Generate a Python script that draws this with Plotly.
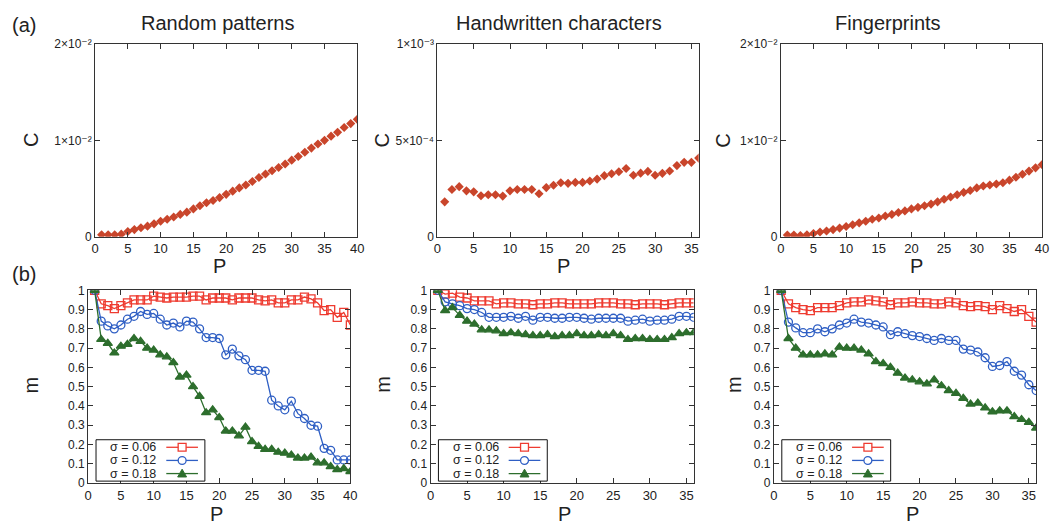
import plotly.graph_objects as go

# ---------------- data ----------------
P40 = list(range(1, 41))
P36 = list(range(1, 37))

C_random = [0.0002, 0.0002, 0.0002, 0.00027, 0.00054, 0.00074, 0.00094, 0.0011, 0.00134, 0.00161,
            0.00181, 0.00205, 0.00232, 0.00255, 0.00289, 0.00322, 0.00352, 0.00376, 0.00406, 0.0044,
            0.00473, 0.00507, 0.00537, 0.00574, 0.00614, 0.00651, 0.00685, 0.00718, 0.00755, 0.00795,
            0.00832, 0.00876, 0.0092, 0.00963, 0.0100, 0.01044, 0.01084, 0.01134, 0.01174, 0.01218]
C_hand = [0.000181, 0.000245, 0.00026, 0.000238, 0.000233, 0.000213, 0.000218, 0.000218, 0.000211, 0.000238,
          0.000245, 0.000245, 0.000245, 0.000223, 0.000255, 0.000267, 0.00028, 0.000277, 0.000282, 0.000282,
          0.000289, 0.000299, 0.000317, 0.000327, 0.000337, 0.000354, 0.000319, 0.00033, 0.000339, 0.000319,
          0.000329, 0.000341, 0.000369, 0.000386, 0.000386, 0.000408]
C_finger = [0.00017, 0.00017, 0.00013, 0.0002, 0.00034, 0.0005, 0.0006, 0.00074, 0.0009, 0.00107,
            0.00124, 0.00144, 0.00161, 0.00181, 0.00195, 0.00215, 0.00232, 0.00252, 0.00268, 0.00289,
            0.00305, 0.00322, 0.00339, 0.00362, 0.00389, 0.00413, 0.00436, 0.0046, 0.0048, 0.00507,
            0.00527, 0.00537, 0.00547, 0.0056, 0.00587, 0.00617, 0.00648, 0.00681, 0.00715, 0.00748]

m_random_006 = [1.0, 0.93, 0.92, 0.905, 0.92, 0.935, 0.95, 0.95, 0.95, 0.97,
                0.965, 0.96, 0.965, 0.965, 0.965, 0.97, 0.97, 0.95, 0.96, 0.96,
                0.96, 0.95, 0.96, 0.96, 0.96, 0.95, 0.945, 0.95, 0.935, 0.935,
                0.95, 0.95, 0.965, 0.955, 0.935, 0.895, 0.9, 0.86, 0.885, 0.82]
m_random_012 = [1.0, 0.84, 0.815, 0.8, 0.82, 0.85, 0.865, 0.89, 0.875, 0.88,
                0.85, 0.82, 0.83, 0.81, 0.84, 0.835, 0.8, 0.755, 0.755, 0.75,
                0.665, 0.695, 0.66, 0.64, 0.585, 0.585, 0.58, 0.43, 0.4, 0.38,
                0.425, 0.36, 0.335, 0.3, 0.295, 0.18, 0.17, 0.12, 0.12, 0.12]
m_random_018 = [1.0, 0.745, 0.725, 0.675, 0.71, 0.72, 0.75, 0.735, 0.7, 0.69,
                0.665, 0.655, 0.625, 0.55, 0.56, 0.5, 0.45, 0.365, 0.38, 0.34,
                0.27, 0.27, 0.245, 0.29, 0.215, 0.19, 0.175, 0.175, 0.16, 0.155,
                0.145, 0.13, 0.13, 0.135, 0.105, 0.105, 0.085, 0.07, 0.075, 0.06]

m_hand_006 = [1.0, 0.98, 0.985, 0.965, 0.96, 0.945, 0.945, 0.945, 0.93, 0.935,
              0.935, 0.93, 0.93, 0.925, 0.93, 0.93, 0.935, 0.935, 0.93, 0.93,
              0.93, 0.93, 0.935, 0.935, 0.935, 0.93, 0.93, 0.925, 0.93, 0.93,
              0.93, 0.925, 0.93, 0.935, 0.935, 0.935]
m_hand_012 = [1.0, 0.94, 0.93, 0.92, 0.905, 0.9, 0.885, 0.86, 0.86, 0.86,
              0.865, 0.855, 0.865, 0.845, 0.86, 0.86, 0.855, 0.855, 0.86, 0.86,
              0.855, 0.85, 0.855, 0.855, 0.855, 0.855, 0.84, 0.845, 0.85, 0.84,
              0.845, 0.845, 0.85, 0.865, 0.865, 0.86]
m_hand_018 = [1.0, 0.895, 0.91, 0.87, 0.84, 0.825, 0.795, 0.795, 0.79, 0.775,
              0.78, 0.775, 0.77, 0.765, 0.765, 0.77, 0.76, 0.765, 0.765, 0.775,
              0.765, 0.765, 0.77, 0.765, 0.775, 0.765, 0.745, 0.75, 0.75, 0.745,
              0.745, 0.745, 0.755, 0.775, 0.78, 0.78]

m_finger_006 = [1.0, 0.93, 0.91, 0.9, 0.895, 0.91, 0.91, 0.91, 0.92, 0.935,
                0.94, 0.94, 0.95, 0.945, 0.94, 0.925, 0.935, 0.935, 0.94, 0.935,
                0.935, 0.93, 0.93, 0.94, 0.935, 0.92, 0.915, 0.92, 0.915, 0.9,
                0.92, 0.905, 0.89, 0.9, 0.865, 0.835]
m_finger_012 = [1.0, 0.835, 0.805, 0.78, 0.78, 0.8, 0.785, 0.8, 0.82, 0.83,
                0.85, 0.835, 0.83, 0.82, 0.81, 0.77, 0.785, 0.775, 0.765, 0.76,
                0.75, 0.74, 0.75, 0.74, 0.74, 0.695, 0.69, 0.68, 0.65, 0.605,
                0.61, 0.63, 0.58, 0.56, 0.51, 0.48]
m_finger_018 = [1.0, 0.75, 0.7, 0.665, 0.665, 0.665, 0.67, 0.665, 0.705, 0.7,
                0.7, 0.69, 0.67, 0.63, 0.62, 0.6, 0.57, 0.545, 0.535, 0.525,
                0.515, 0.535, 0.505, 0.48, 0.465, 0.44, 0.41, 0.415, 0.39, 0.37,
                0.375, 0.375, 0.345, 0.33, 0.315, 0.285]

titles = ["Random patterns", "Handwritten characters", "Fingerprints"]
sigma_labels = ["σ = 0.06", "σ = 0.12", "σ = 0.18"]
C_tickvals = [[0, 0.01, 0.02], [0, 0.0005, 0.001], [0, 0.01, 0.02]]
C_ticktext = [["0", "1×10⁻²", "2×10⁻²"],
              ["0", "5×10⁻⁴", "1×10⁻³"],
              ["0", "1×10⁻²", "2×10⁻²"]]
m_tickvals = [round(0.1 * i, 1) for i in range(11)]
m_ticktext = ["0"] + [f"{v:.1f}" for v in m_tickvals[1:-1]] + ["1"]
x_tickvals = list(range(0, 45, 5))

# ---------------- layout geometry (pixels) ----------------
W, H = 1055, 529
def px(x):
    return x / W
def py(y):
    return 1 - y / H

top_x = [(92, 357), (438, 702), (785, 1049)]
top_y = (38, 236)
bot_x = [(85, 350), (431, 697), (778, 1043)]
bot_y = (291, 489)

FONT = "Liberation Sans, Arial, Helvetica, DejaVu Sans, sans-serif"
AX = "#333333"
TXT = "#222222"
C_COL = "#c9452b"
RED = "#ee3b30"
BLUE = "#2f5fc4"
GREEN = "#2d6e2d"

fig = go.Figure()

top_data = [(P40, C_random, 40), (P36, C_hand, 36), (P40, C_finger, 40)]
bot_data = [(P40, [m_random_006, m_random_012, m_random_018], 40),
            (P36, [m_hand_006, m_hand_012, m_hand_018], 36),
            (P36, [m_finger_006, m_finger_012, m_finger_018], 36)]

styles = [dict(color=RED, symbol="square-open", size=8),
          dict(color=BLUE, symbol="circle-open", size=8),
          dict(color=GREEN, symbol="triangle-up", size=8)]

def axis_common():
    return dict(showline=True, linecolor=AX, linewidth=1, mirror="ticks",
                ticks="inside", ticklen=5, tickcolor=AX, tickwidth=1,
                showgrid=False, zeroline=False,
                tickfont=dict(family=FONT, size=13, color=TXT))

layout = {}
for i in range(3):
    k = i + 1
    xs, ys, xmax = top_data[i]
    fig.add_trace(go.Scatter(x=xs, y=ys, mode="markers",
                             marker=dict(symbol="diamond", size=7, color=C_COL),
                             xaxis=f"x{k}", yaxis=f"y{k}", showlegend=False))
    xa = axis_common()
    xa.update(domain=[px(top_x[i][0]), px(top_x[i][1])], range=[0, xmax],
              tickvals=x_tickvals, anchor=f"y{k}")
    ya = axis_common()
    ya.update(domain=[py(top_y[1]), py(top_y[0])], range=[0, C_tickvals[i][2]],
              tickvals=C_tickvals[i], ticktext=C_ticktext[i], anchor=f"x{k}",
              tickfont=dict(family=FONT, size=12, color=TXT))
    layout[f"xaxis{k if k > 1 else ''}"] = xa
    layout[f"yaxis{k if k > 1 else ''}"] = ya

for i in range(3):
    k = i + 4
    xs, series, xmax = bot_data[i]
    for j, s in enumerate(series):
        st = styles[j]
        fig.add_trace(go.Scatter(x=xs, y=s, mode="lines+markers",
                                 line=dict(color=st["color"], width=1.3),
                                 marker=dict(symbol=st["symbol"], size=st["size"], color=st["color"],
                                             line=dict(color=st["color"], width=1.3)),
                                 name=sigma_labels[j],
                                 xaxis=f"x{k}", yaxis=f"y{k}", showlegend=False))
    xa = axis_common()
    xa.update(domain=[px(bot_x[i][0]), px(bot_x[i][1])], range=[0, xmax],
              tickvals=x_tickvals, anchor=f"y{k}")
    ya = axis_common()
    ya.update(domain=[py(bot_y[1]), py(bot_y[0])], range=[0, 1],
              tickvals=m_tickvals, ticktext=m_ticktext, anchor=f"x{k}",
              tickfont=dict(family=FONT, size=12, color=TXT))
    layout[f"xaxis{k}"] = xa
    layout[f"yaxis{k}"] = ya

annotations = []
shapes = []

def ann(x, y, text, size, xanchor="center", yanchor="middle", angle=0):
    annotations.append(dict(x=px(x), y=py(y), xref="paper", yref="paper", text=text,
                            showarrow=False, xanchor=xanchor, yanchor=yanchor, textangle=angle,
                            borderpad=0,
                            font=dict(family=FONT, size=size, color=TXT)))

# titles
for cx, t in zip([216, 561, 893], titles):
    ann(cx, 16, t, 20)
ann(20, 18, "(a)", 20)
ann(20, 274, "(b)", 20)
# x axis titles
for cx in [218, 565, 922]:
    ann(cx, 266, "P", 20)
for cx in [215, 566, 918]:
    ann(cx, 521, "P", 20)
# y axis titles
for cx in [28, 382, 727]:
    ann(cx, 137, "C", 20, angle=-90)
for cx in [27, 383, 737]:
    ann(cx, 388, "m", 20, angle=-90)

# legends (gnuplot style: text left, key sample right)
ROW = 13.5
for i in range(3):
    left = bot_x[i][0] + 8
    bottom = bot_y[1] - 2
    top = bottom - 3 * ROW - 2
    shapes.append(dict(type="rect", xref="paper", yref="paper",
                       x0=px(left), x1=px(left + 110), y0=py(bottom), y1=py(top),
                       line=dict(color="#111111", width=1), fillcolor="white", layer="above"))
    for j in range(3):
        ry = top + 1 + ROW * (j + 0.5)
        col = styles[j]["color"]
        ann(left + 62, ry, sigma_labels[j], 12.5, xanchor="right")
        shapes.append(dict(type="line", xref="paper", yref="paper",
                           x0=px(left + 71), x1=px(left + 103), y0=py(ry), y1=py(ry),
                           line=dict(color=col, width=1.3), layer="above"))
        mx = left + 87
        if j == 0:
            shapes.append(dict(type="rect", xref="paper", yref="paper",
                               x0=px(mx - 4), x1=px(mx + 4), y0=py(ry + 4), y1=py(ry - 4),
                               line=dict(color=col, width=1.3), fillcolor="white", layer="above"))
        elif j == 1:
            shapes.append(dict(type="circle", xref="paper", yref="paper",
                               x0=px(mx - 4), x1=px(mx + 4), y0=py(ry + 4), y1=py(ry - 4),
                               line=dict(color=col, width=1.3), fillcolor="white", layer="above"))
        else:
            path = (f"M {px(mx - 4.5)} {py(ry + 3.5)} L {px(mx + 4.5)} {py(ry + 3.5)} "
                    f"L {px(mx)} {py(ry - 4.5)} Z")
            shapes.append(dict(type="path", xref="paper", yref="paper", path=path,
                               line=dict(color=col, width=1), fillcolor=col, layer="above"))

fig.update_layout(**layout)
fig.update_layout(width=W, height=H, margin=dict(l=0, r=0, t=0, b=0),
                  paper_bgcolor="white", plot_bgcolor="white",
                  annotations=annotations, shapes=shapes,
                  font=dict(family=FONT, color=TXT), showlegend=False)

fig.write_html("out.html")
